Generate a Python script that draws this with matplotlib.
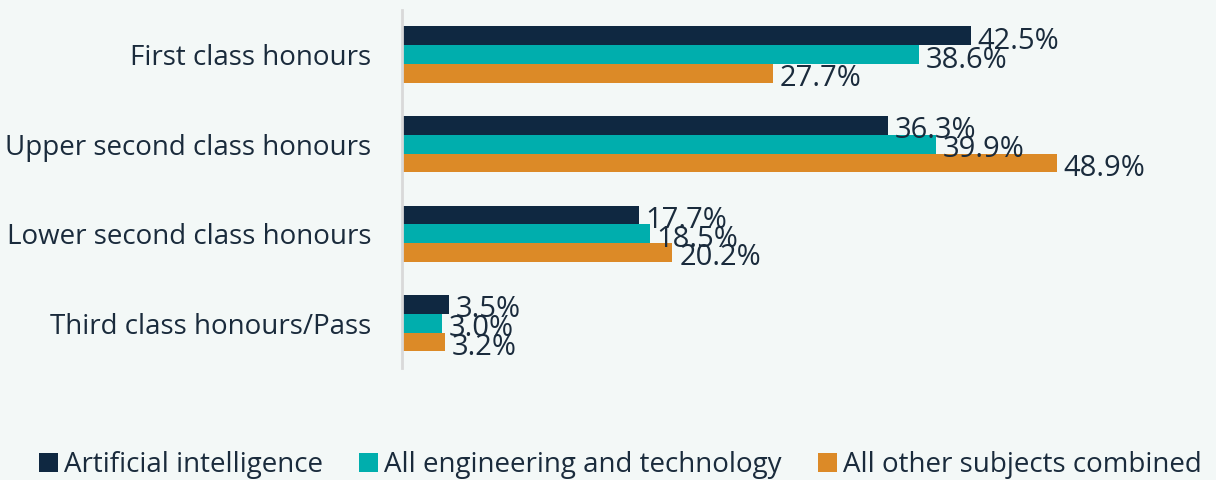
import matplotlib.pyplot as plt
import numpy as np

categories = ["First class honours", "Upper second class honours",
              "Lower second class honours", "Third class honours/Pass"]
series = ["Artificial intelligence", "All engineering and technology",
          "All other subjects combined"]
ai = [42.5, 36.3, 17.7, 3.5]
eng = [38.6, 39.9, 18.5, 3.0]
other = [27.7, 48.9, 20.2, 3.2]

colors = ["#0F2841", "#00AEAD", "#DC8A27"]
bg = "#F3F8F7"
txt = "#1A2B3C"

plt.rcParams['font.family'] = ['Open Sans', 'DejaVu Sans']

fig = plt.figure(figsize=(12.16, 4.8), dpi=100, facecolor=bg)
ax = fig.add_axes([0.3306, 0.2333, 0.6694, 0.746])
ax.set_facecolor(bg)

y = np.arange(len(categories))
h = 0.21
for i, (vals, name) in enumerate(zip([ai, eng, other], series)):
    pos = y - h + i * h
    ax.barh(pos, vals, height=h, color=colors[i], label=name)
    for p, v in zip(pos, vals):
        ax.text(v + 0.5, p + 0.06, f"{v:.1f}%", va='center', ha='left',
                fontsize=21, color=txt)

ax.set_ylim(3.5, -0.5)
ax.set_xlim(0, 60.8)
ax.set_yticks(y)
ax.set_yticklabels(categories, fontsize=20, color=txt)
ax.tick_params(axis='y', length=0, pad=22)
ax.set_xticks([])
for s in ['top', 'right', 'bottom']:
    ax.spines[s].set_visible(False)
ax.spines['left'].set_color('#D9D9D9')
ax.spines['left'].set_linewidth(2)

fig.legend(loc='lower center', bbox_to_anchor=(0.51, -0.05), ncol=3, frameon=False,
           fontsize=20, handlelength=0.7, handleheight=0.7, handletextpad=0.2,
           columnspacing=1.3, labelcolor=txt)

fig.savefig("out.png", dpi=100, facecolor=bg)
